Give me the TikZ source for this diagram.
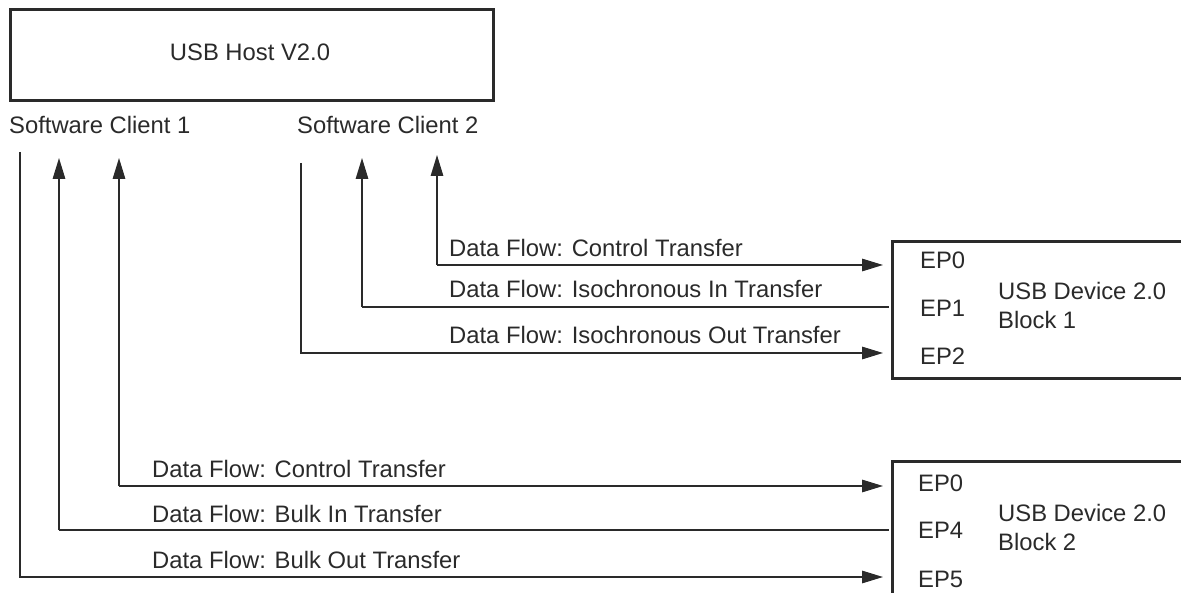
\documentclass[tikz,border=0pt]{standalone}
\usepackage{fontspec}
\setmainfont{Liberation Sans}
\usetikzlibrary{arrows.meta}
\definecolor{ink}{HTML}{2A2A2A}
\tikzset{
  boxst/.style={draw=ink, line width=2.6pt, inner sep=0pt},
  txt/.style={inner sep=0pt, text=ink, font=\fontsize{23.8}{28}\selectfont},
  lbl/.style={txt, anchor=base west},
  flow/.style={draw=ink, line width=1.4pt},
  flowarr/.style={flow, -{Triangle[length=21pt,width=12.5pt]}},
}
\begin{document}
\begin{tikzpicture}[x=1pt,y=-1pt]
\useasboundingbox (0,0) rectangle (1181,593);
% host
\node[boxst, minimum width=483pt, minimum height=91pt, anchor=north west] (host) at (9,8) {};
\node[txt] (hostlbl) at (250,52) {USB Host V2.0};
\node[txt, anchor=west] (cl1) at (9,125) {Software Client 1};
\node[txt, anchor=west] (cl2) at (297,125) {Software Client 2};
% devices
\node[boxst, minimum width=310pt, minimum height=137pt, anchor=north west] (dev1) at (891,240) {};
\node[boxst, minimum width=310pt, minimum height=160pt, anchor=north west] (dev2) at (891,460) {};
\node[txt, anchor=west] (d1ep0) at (920,260) {EP0};
\node[txt, anchor=west] (d1ep1) at (920,308) {EP1};
\node[txt, anchor=west] (d1ep2) at (920,356) {EP2};
\node[txt, anchor=west, align=left] (d1name) at (998,305) {USB Device 2.0\\[1pt]Block 1};
\node[txt, anchor=west] (d2ep0) at (918,483) {EP0};
\node[txt, anchor=west] (d2ep4) at (918,530) {EP4};
\node[txt, anchor=west] (d2ep5) at (918,579) {EP5};
\node[txt, anchor=west, align=left] (d2name) at (998,527) {USB Device 2.0\\[1pt]Block 2};
% coordinates
\coordinate (a1) at (20,152);   \coordinate (a1c) at (20,577);   \coordinate (a1e) at (883,577);
\coordinate (a2t) at (59,158);  \coordinate (a2c) at (59,530);   \coordinate (a2e) at (889,530);
\coordinate (a3t) at (119,158); \coordinate (a3c) at (119,486);  \coordinate (a3e) at (883,486);
\coordinate (b1) at (301,163);  \coordinate (b1c) at (301,353);  \coordinate (b1e) at (883,353);
\coordinate (b2t) at (362,158); \coordinate (b2c) at (362,307);  \coordinate (b2e) at (889,307);
\coordinate (b3t) at (437,155); \coordinate (b3c) at (437,265);  \coordinate (b3e) at (883,265);
% connectors block 1
\draw[flowarr] (b3c) -- (b3t);
\draw[flowarr] (b3c) -- (b3e);
\draw[flowarr] (b2c) -- (b2t);
\draw[flow] (b2c) -- (b2e);
\draw[flowarr] (b1) -- (b1c) -- (b1e);
% connectors block 2
\draw[flowarr] (a3c) -- (a3t);
\draw[flowarr] (a3c) -- (a3e);
\draw[flowarr] (a2c) -- (a2t);
\draw[flow] (a2c) -- (a2e);
\draw[flowarr] (a1) -- (a1c) -- (a1e);
% labels
\node[lbl] (l1) at (449,257) {Data Flow: Control Transfer};
\node[lbl] (l2) at (449,298) {Data Flow: Isochronous In Transfer};
\node[lbl] (l3) at (449,344) {Data Flow: Isochronous Out Transfer};
\node[lbl] (l4) at (152,477) {Data Flow: Control Transfer};
\node[lbl] (l5) at (152,522) {Data Flow: Bulk In Transfer};
\node[lbl] (l6) at (152,568) {Data Flow: Bulk Out Transfer};
\end{tikzpicture}
\end{document}
